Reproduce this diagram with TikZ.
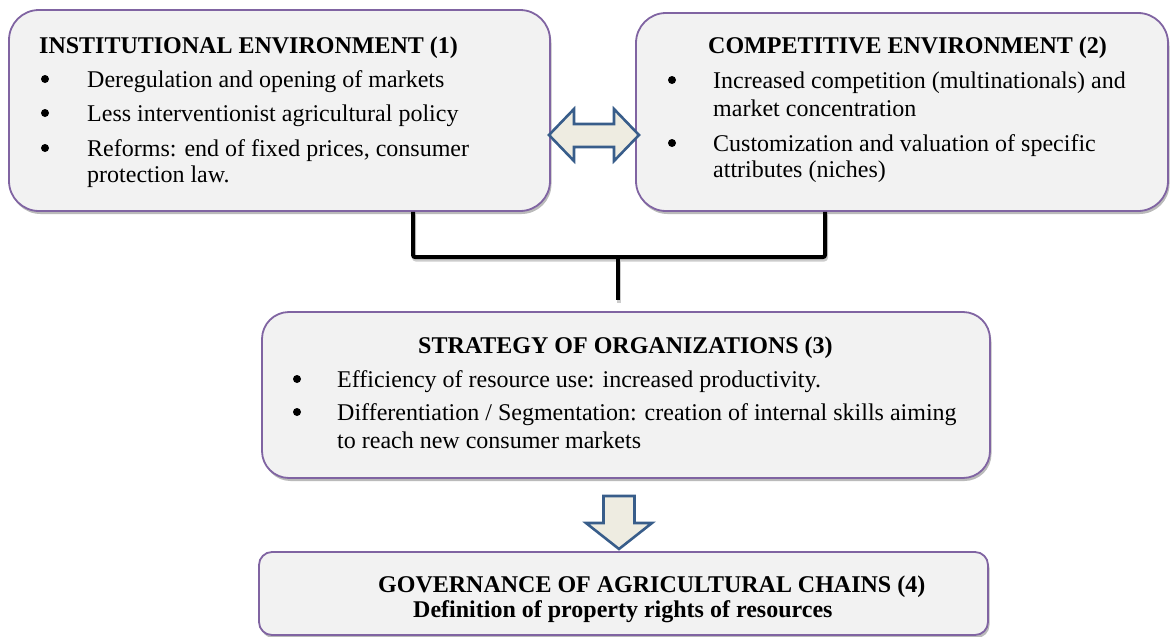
\documentclass[tikz,border=0pt]{standalone}
\usepackage{fontspec}
\setmainfont{Liberation Serif}
\usetikzlibrary{shadows}
\definecolor{boxline}{RGB}{128,100,162}
\definecolor{boxfill}{RGB}{242,242,242}
\definecolor{arrowline}{RGB}{56,93,138}
\definecolor{arrowfill}{RGB}{238,236,225}

\begin{document}
\begin{tikzpicture}
  [x=1pt,y=-1pt,
   font=\fontsize{24}{28}\selectfont,
   envBox/.style={draw=boxline,fill=boxfill,line width=1.8pt,
     drop shadow={shadow xshift=1.5pt,shadow yshift=-3pt,fill=black!45,opacity=.6}},
   txtLine/.style={anchor=base west,inner sep=0pt},
   headLine/.style={txtLine,font=\fontsize{24}{28}\selectfont\bfseries},
   blockArrow/.style={draw=arrowline,fill=arrowfill,line width=2.6pt,line join=miter},
   joinLine/.style={line width=4pt,rounded corners=2pt,
     preaction={draw=black!20,line width=4pt,transform canvas={shift={(1pt,-2.5pt)}}}},
  ]
 \useasboundingbox (0,0) rectangle (1171,637);

 % the four boxes
 \node[envBox,rounded corners=30pt,minimum width=541pt,minimum height=201pt] (inst) at (279.5,110.5) {};
 \node[envBox,rounded corners=30pt,minimum width=532pt,minimum height=198pt] (comp) at (902,112) {};
 \node[envBox,rounded corners=27pt,minimum width=728pt,minimum height=166pt] (strat) at (626,395) {};
 \node[envBox,rounded corners=13pt,minimum width=729pt,minimum height=83pt] (gov) at (623.5,593.5) {};

 % institutional environment
 \node[headLine] (inst-title) at (39,53) {INSTITUTIONAL ENVIRONMENT (1)};
 \node[txtLine] (inst-a) at (87,87) {Deregulation and opening of markets};
 \node[txtLine] (inst-b) at (87,121) {Less interventionist agricultural policy};
 \node[txtLine] (inst-c) at (87,156) {Reforms: end of fixed prices, consumer};
 \node[txtLine] (inst-d) at (87,182) {protection law.};
 \foreach \y in {79,113,148}
   \fill (45,\y) circle (4pt);

 % competitive environment
 \node[headLine] (comp-title) at (708,53) {COMPETITIVE ENVIRONMENT (2)};
 \node[txtLine] (comp-a) at (713,88) {Increased competition (multinationals) and};
 \node[txtLine] (comp-b) at (713,116) {market concentration};
 \node[txtLine] (comp-c) at (713,151) {Customization and valuation of specific};
 \node[txtLine] (comp-d) at (713,177) {attributes (niches)};
 \foreach \y in {80,143}
   \fill (672,\y) circle (4pt);

 % strategy
 \node[headLine] (strat-title) at (418,353) {STRATEGY OF ORGANIZATIONS (3)};
 \node[txtLine] (strat-a) at (337,387) {Efficiency of resource use: increased productivity.};
 \node[txtLine] (strat-b) at (337,420) {Differentiation / Segmentation: creation of internal skills aiming};
 \node[txtLine] (strat-c) at (337,448) {to reach new consumer markets};
 \foreach \y in {379,412}
   \fill (297,\y) circle (4pt);

 % governance
 \node[headLine] (gov-title) at (378,592) {GOVERNANCE OF AGRICULTURAL CHAINS (4)};
 \node[headLine] (gov-sub) at (413,617) {Definition of property rights of resources};

 % block arrows
 \draw[blockArrow] (549,135) -- (574,109) -- (574,124) -- (614,124) -- (614,109) -- (639,135)
   -- (614,161) -- (614,147) -- (574,147) -- (574,161) -- cycle;
 \draw[blockArrow] (603.5,496) -- (634.5,496) -- (634.5,523) -- (652,523) -- (619,549)
   -- (586,523) -- (603.5,523) -- cycle;

 % joining bracket
 \coordinate (forkL) at (413,257);
 \coordinate (forkR) at (825,257);
 \coordinate (fork) at (618,257);
 \coordinate (forkEnd) at (618,300);
 \draw[joinLine] (forkL |- inst.south) -- (forkL) -- (forkR) -- (forkR |- comp.south);
 \draw[joinLine] (fork) -- (forkEnd);

\end{tikzpicture}
\end{document}
